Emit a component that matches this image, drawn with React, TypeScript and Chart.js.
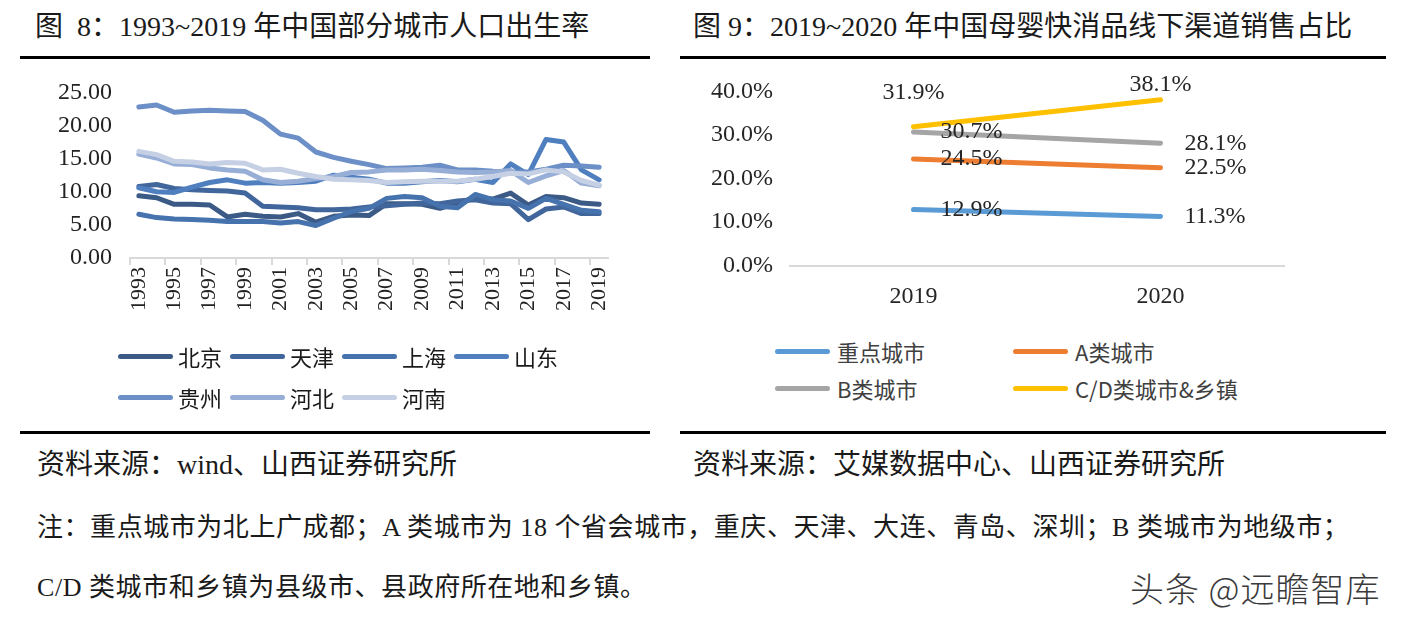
import React, { useEffect, useRef } from "react";
import { Chart, registerables } from "chart.js";

Chart.register(...registerables);

// ---------- Figure 8 data ----------
const YEARS = [
  "1993", "1994", "1995", "1996", "1997", "1998", "1999", "2000", "2001",
  "2002", "2003", "2004", "2005", "2006", "2007", "2008", "2009", "2010",
  "2011", "2012", "2013", "2014", "2015", "2016", "2017", "2018", "2019",
];
const BEIJING = [9.4, 9.1, 8.1, 8.1, 8.0, 6.2, 6.6, 6.3, 6.2, 6.7, 5.4, 6.3, 6.5, 6.4, 8.2, 8.2, 8.1, 7.5, 8.3, 9.1, 8.9, 9.8, 8.0, 9.3, 9.1, 8.3, 8.1];
const TIANJIN = [10.8, 11.1, 10.5, 10.3, 10.2, 10.1, 9.8, 7.8, 7.7, 7.6, 7.3, 7.3, 7.4, 7.7, 7.9, 8.1, 8.3, 8.2, 8.6, 8.8, 8.3, 8.2, 5.8, 7.4, 7.7, 6.7, 6.7];
const SHANGHAI = [6.6, 6.1, 5.9, 5.8, 5.7, 5.5, 5.5, 5.5, 5.3, 5.5, 4.9, 6.0, 7.0, 7.5, 9.0, 9.3, 9.1, 7.8, 7.6, 9.6, 8.8, 8.6, 7.5, 9.0, 8.1, 7.2, 7.0];
const SHANDONG = [10.6, 10.0, 9.9, 10.7, 11.4, 11.8, 11.3, 11.4, 11.3, 11.4, 11.6, 12.5, 12.2, 11.9, 11.3, 11.3, 11.5, 11.7, 11.5, 11.9, 11.4, 14.2, 12.6, 17.9, 17.5, 13.3, 11.8];
const GUIZHOU = [22.8, 23.1, 22.0, 22.2, 22.3, 22.2, 22.1, 20.8, 18.7, 18.1, 16.0, 15.2, 14.6, 14.1, 13.5, 13.6, 13.7, 14.0, 13.3, 13.3, 13.1, 13.0, 13.0, 13.4, 14.0, 13.9, 13.7];
const HEBEI = [15.7, 15.1, 14.2, 14.1, 13.6, 13.3, 13.1, 11.8, 11.4, 11.6, 12.0, 12.3, 12.9, 13.0, 13.3, 13.3, 13.4, 13.2, 13.0, 12.9, 13.0, 13.2, 11.4, 12.4, 13.2, 11.3, 10.9];
const HENAN = [16.1, 15.6, 14.6, 14.5, 14.2, 14.4, 14.3, 13.3, 13.4, 12.8, 12.3, 11.9, 11.8, 11.7, 11.4, 11.5, 11.6, 11.6, 11.6, 11.9, 12.3, 12.8, 12.7, 13.3, 13.0, 11.7, 11.0];
const CITY_NAMES = ["北京", "天津", "上海", "山东", "贵州", "河北", "河南"];
const CITY_SERIES = [BEIJING, TIANJIN, SHANGHAI, SHANDONG, GUIZHOU, HEBEI, HENAN];
const CITY_COLORS = ["#3b5a86", "#41669b", "#4672ad", "#4f7fbf", "#6b8fc6", "#97aed6", "#c6d0e5"];
const RATE_MIN = 0;
const RATE_MAX = 25;
const RATE_STEP = 5;

// ---------- Figure 9 data ----------
const CHANNEL_YEARS = ["2019", "2020"];
const KEY_CITIES = [12.9, 11.3];
const A_CITIES = [24.5, 22.5];
const B_CITIES = [30.7, 28.1];
const CD_TOWNS = [31.9, 38.1];
const CHANNEL_NAMES = ["重点城市", "A类城市", "B类城市", "C/D类城市&乡镇"];
const CHANNEL_SERIES = [KEY_CITIES, A_CITIES, B_CITIES, CD_TOWNS];
const CHANNEL_COLORS = ["#5b9bd5", "#ed7d31", "#a5a5a5", "#ffc000"];
const SHARE_MIN = 0;
const SHARE_MAX = 40;
const SHARE_STEP = 10;

// label placement (style)
const LABEL_PLACE = [
  [{ side: "right", gap: 27 }, { side: "right", gap: 24 }],
  [{ side: "right", gap: 27 }, { side: "right", gap: 24 }],
  [{ side: "right", gap: 27 }, { side: "right", gap: 24 }],
  [{ side: "above", gap: 34 }, { side: "above", gap: 15 }],
];

const SERIF = '"Liberation Serif", "Noto Sans CJK SC", serif';
const SANS = '"Noto Sans CJK SC", sans-serif';

const valueLabels = {
  id: "valueLabels",
  afterDatasetsDraw(chart: any) {
    const ctx = chart.ctx;
    ctx.save();
    ctx.font = '24px "Liberation Serif"';
    ctx.fillStyle = "#262626";
    ctx.textBaseline = "middle";
    chart.data.datasets.forEach((ds: any, di: number) => {
      const meta = chart.getDatasetMeta(di);
      meta.data.forEach((pt: any, i: number) => {
        const place = LABEL_PLACE[di][i];
        const text = Number(ds.data[i]).toFixed(1) + "%";
        if (place.side === "above") {
          ctx.textAlign = "center";
          ctx.fillText(text, pt.x, pt.y - place.gap);
        } else {
          ctx.textAlign = "left";
          ctx.fillText(text, pt.x + place.gap, pt.y);
        }
      });
    });
    ctx.restore();
  },
};

function BirthChart() {
  const ref = useRef<HTMLCanvasElement>(null);
  useEffect(() => {
    const chart = new Chart(ref.current as HTMLCanvasElement, {
      type: "line",
      data: {
        labels: YEARS,
        datasets: CITY_SERIES.map((s, i) => ({
          label: CITY_NAMES[i],
          data: s,
          borderColor: CITY_COLORS[i],
          backgroundColor: CITY_COLORS[i],
          borderWidth: 5,
          pointRadius: 0,
          tension: 0,
          borderCapStyle: "round",
          borderJoinStyle: "round",
          order: -i,
        })),
      },
      options: {
        responsive: false,
        animation: false,
        devicePixelRatio: 1,
        layout: { padding: { top: 28.9, right: 32, bottom: 10, left: 0 } },
        plugins: { legend: { display: false }, tooltip: { enabled: false } },
        scales: {
          x: {
            type: "category",
            offset: true,
            afterFit: (s: any) => { s.height = 72; },
            grid: {
              offset: true,
              drawOnChartArea: false,
              drawTicks: true,
              tickLength: 7,
              lineWidth: 2,
              color: (c: any) => (c.index !== undefined && c.index % 2 === 0 ? "#d9d9d9" : "rgba(0,0,0,0)"),
            },
            border: { display: true, color: "#d9d9d9", width: 2 },
            ticks: {
              autoSkip: false,
              minRotation: 90,
              maxRotation: 90,
              padding: 2,
              color: "#222",
              font: { family: SERIF, size: 22 },
              callback: (_v: any, i: number) => (i % 2 === 0 ? YEARS[i] : ""),
            },
          },
          y: {
            min: RATE_MIN,
            max: RATE_MAX,
            afterFit: (s: any) => { s.width = 100; },
            grid: { display: false, drawTicks: false },
            border: { display: false },
            ticks: {
              stepSize: RATE_STEP,
              padding: 18,
              color: "#222",
              font: { family: SERIF, size: 24 },
              callback: (v: any) => Number(v).toFixed(2),
            },
          },
        },
      },
    } as any);
    return () => chart.destroy();
  }, []);
  return <canvas ref={ref} width={610} height={280} style={{ position: "absolute", left: 30, top: 60 }} />;
}

function ChannelChart() {
  const ref = useRef<HTMLCanvasElement>(null);
  useEffect(() => {
    const chart = new Chart(ref.current as HTMLCanvasElement, {
      type: "line",
      data: {
        labels: CHANNEL_YEARS,
        datasets: CHANNEL_SERIES.map((s, i) => ({
          label: CHANNEL_NAMES[i],
          data: s,
          borderColor: CHANNEL_COLORS[i],
          backgroundColor: CHANNEL_COLORS[i],
          borderWidth: 5,
          pointRadius: 0,
          tension: 0,
          borderCapStyle: "round",
          order: -i,
        })),
      },
      plugins: [valueLabels],
      options: {
        responsive: false,
        animation: false,
        devicePixelRatio: 1,
        layout: { padding: { top: 29.7, right: 26, bottom: 0, left: 0 } },
        plugins: { legend: { display: false }, tooltip: { enabled: false } },
        scales: {
          x: {
            type: "category",
            offset: true,
            afterFit: (s: any) => { s.height = 54.3; },
            grid: { display: false, drawTicks: false },
            border: { display: true, color: "#d9d9d9", width: 2 },
            ticks: {
              padding: 17,
              color: "#262626",
              font: { family: SERIF, size: 24 },
            },
          },
          y: {
            min: SHARE_MIN,
            max: SHARE_MAX,
            afterFit: (s: any) => { s.width = 100; },
            grid: { display: false, drawTicks: false },
            border: { display: false },
            ticks: {
              stepSize: SHARE_STEP,
              padding: 17,
              color: "#262626",
              font: { family: SERIF, size: 24 },
              callback: (v: any) => Number(v).toFixed(1) + "%",
            },
          },
        },
      },
    } as any);
    return () => chart.destroy();
  }, []);
  return <canvas ref={ref} width={620} height={260} style={{ position: "absolute", left: 690, top: 60 }} />;
}

function Text({ x, y, size, children, family = SERIF, color = "#1a1a1a", weight = 400, spacing = 0 }: any) {
  return (
    <div
      style={{
        position: "absolute",
        left: x,
        top: y - 20,
        height: 40,
        lineHeight: "40px",
        fontSize: size,
        fontFamily: family,
        color,
        fontWeight: weight,
        letterSpacing: spacing,
        whiteSpace: "nowrap",
      }}
    >
      {children}
    </div>
  );
}

function LegendItem({ x, y, color, label, textGap, size, textColor }: any) {
  return (
    <>
      <div
        style={{
          position: "absolute",
          left: x,
          top: y - 2.5,
          width: 55,
          height: 5,
          borderRadius: 3,
          background: color,
        }}
      />
      <Text x={x + textGap} y={y} size={size} family={SANS} color={textColor}>
        {label}
      </Text>
    </>
  );
}

const LEFT_LEGEND_ROWS = [[0, 1, 2, 3], [4, 5, 6]];
const RIGHT_LEGEND_GRID = [[0, 1], [2, 3]];

export default function App() {
  return (
    <div
      style={{
        position: "absolute",
        left: 0,
        top: 0,
        width: 1406,
        height: 625,
        background: "#fff",
        overflow: "hidden",
      }}
    >
      <Text x={35} y={27} size={28}>图&nbsp;&nbsp;8：1993~2019 年中国部分城市人口出生率</Text>
      <Text x={693} y={27} size={28}>图 9：2019~2020 年中国母婴快消品线下渠道销售占比</Text>
      <div style={{ position: "absolute", left: 20, top: 56, width: 630, height: 3, background: "#000" }} />
      <div style={{ position: "absolute", left: 680, top: 56, width: 706, height: 3, background: "#000" }} />

      <BirthChart />
      <ChannelChart />

      {LEFT_LEGEND_ROWS.map((row, r) =>
        row.map((idx, c) => (
          <LegendItem
            key={"l" + idx}
            x={118 + c * 112}
            y={356 + r * 41}
            color={CITY_COLORS[idx]}
            label={CITY_NAMES[idx]}
            textGap={60}
            size={22}
            textColor="#1a1a1a"
          />
        ))
      )}
      {RIGHT_LEGEND_GRID.map((row, r) =>
        row.map((idx, c) => (
          <LegendItem
            key={"r" + idx}
            x={775 + c * 238}
            y={351 + r * 37}
            color={CHANNEL_COLORS[idx]}
            label={CHANNEL_NAMES[idx]}
            textGap={62}
            size={22}
            textColor="#404040"
          />
        ))
      )}

      <div style={{ position: "absolute", left: 20, top: 431, width: 630, height: 3, background: "#000" }} />
      <div style={{ position: "absolute", left: 680, top: 431, width: 706, height: 3, background: "#000" }} />

      <Text x={37} y={465} size={28}>资料来源：wind、山西证券研究所</Text>
      <Text x={693} y={465} size={28}>资料来源：艾媒数据中心、山西证券研究所</Text>
      <Text x={37} y={528} size={26} spacing={0.55}>注：重点城市为北上广成都；A 类城市为 18 个省会城市，重庆、天津、大连、青岛、深圳；B 类城市为地级市；</Text>
      <Text x={37} y={588} size={26} spacing={0.55}>C/D 类城市和乡镇为县级市、县政府所在地和乡镇。</Text>
      <Text x={1130} y={588} size={34} family={SANS} color="#3a3a3a" weight={300} spacing={1}>头条 @远瞻智库</Text>
    </div>
  );
}
